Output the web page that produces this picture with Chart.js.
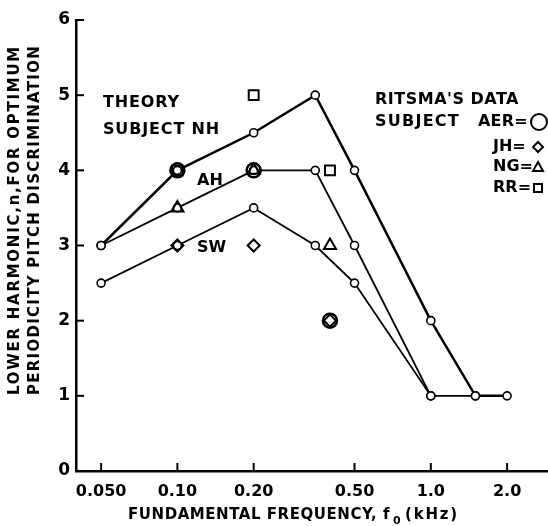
<!DOCTYPE html>
<html>
<head>
<meta charset="utf-8">
<script src="https://cdn.jsdelivr.net/npm/chart.js@4.4.1/dist/chart.umd.min.js"></script>
<style>
  html, body { margin: 0; padding: 0; background: #fff; }
  #wrap { width: 548px; height: 526px; }
</style>
</head>
<body>
<div id="wrap"><canvas id="chart"></canvas></div>
<script>
// theory curves (subjects NH, AH, SW)
const freqNH = [0.05, 0.1, 0.2, 0.35, 0.5, 1.0, 1.5, 2.0];
const harmNH = [3, 4, 4.5, 5, 4, 2, 1, 1];
const freqAH = [0.05, 0.1, 0.2, 0.35, 0.5, 1.0, 1.5];
const harmAH = [3, 3.5, 4, 4, 3, 1, 1];
const freqSW = [0.05, 0.1, 0.2, 0.35, 0.5, 1.0];
const harmSW = [2.5, 3, 3.5, 3, 2.5, 1];

// Ritsma's data
const freqAER = [0.1, 0.2, 0.4];
const harmAER = [4, 4, 2];
const freqJH = [0.1, 0.2, 0.4];
const harmJH = [3, 3, 2];
const freqNG = [0.1, 0.2, 0.4];
const harmNG = [3.5, 4, 3];
const freqRR = [0.1, 0.2, 0.4];
const harmRR = [4, 5, 4];

const xTicks = [0.05, 0.1, 0.2, 0.5, 1, 2];
const xTickLabels = ['0.050', '0.10', '0.20', '0.50', '1.0', '2.0'];
const yTicks = [0, 1, 2, 3, 4, 5, 6];

const FONT = 'DejaVu Sans';

function pts(xs, ys) {
    return xs.map((x, i) => ({ x: x, y: ys[i] }));
}

// text stretched to a given width, like the hand lettering
function fitText(ctx, str, x, y, w) {
    ctx.letterSpacing = '0px';
    const m = ctx.measureText(str).width;
    ctx.letterSpacing = Math.max(0, (w - m) / str.length) + 'px';
    ctx.fillText(str, x, y);
    ctx.letterSpacing = '0px';
}

// inward tick marks on both axes
const tickMarks = {
    id: 'tickMarks',
    beforeDatasetsDraw(chart) {
        const ctx = chart.ctx;
        const xs = chart.scales.x, ys = chart.scales.y;
        const a = chart.chartArea;
        ctx.save();
        ctx.strokeStyle = '#000';
        ctx.lineWidth = 2;
        xTicks.forEach(v => {
            const px = xs.getPixelForValue(v);
            ctx.beginPath();
            ctx.moveTo(px, a.bottom);
            ctx.lineTo(px, a.bottom - 8);
            ctx.stroke();
        });
        yTicks.forEach(v => {
            const py = ys.getPixelForValue(v);
            ctx.beginPath();
            ctx.moveTo(a.left, py);
            ctx.lineTo(a.left + 8, py);
            ctx.stroke();
        });
        ctx.restore();
    }
};

// titles, theory labels and the Ritsma key
const labels = {
    id: 'labels',
    afterDraw(chart) {
        const ctx = chart.ctx;
        ctx.save();
        ctx.fillStyle = '#000';
        ctx.strokeStyle = '#000';
        ctx.textBaseline = 'middle';
        ctx.textAlign = 'left';
        ctx.font = 'bold 16px ' + FONT;

        fitText(ctx, 'THEORY', 103, 103, 77);
        fitText(ctx, 'SUBJECT NH', 103, 130, 117);
        fitText(ctx, 'AH', 197, 181, 25);
        fitText(ctx, 'SW', 197, 248, 25);

        fitText(ctx, "RITSMA'S DATA", 375, 100, 144);
        fitText(ctx, 'SUBJECT', 375, 122, 85);
        fitText(ctx, 'AER=', 478, 122, 50);
        fitText(ctx, 'JH=', 493, 147, 32);
        fitText(ctx, 'NG=', 493, 167, 32);
        fitText(ctx, 'RR=', 493, 188, 34);

        // key symbols
        ctx.lineWidth = 2;
        ctx.beginPath();
        ctx.arc(539, 122, 8, 0, Math.PI * 2);
        ctx.stroke();
        ctx.beginPath();
        ctx.moveTo(538, 142); ctx.lineTo(543, 147); ctx.lineTo(538, 152); ctx.lineTo(533, 147);
        ctx.closePath(); ctx.stroke();
        ctx.beginPath();
        ctx.moveTo(538, 162); ctx.lineTo(543, 171); ctx.lineTo(533, 171);
        ctx.closePath(); ctx.stroke();
        ctx.strokeRect(534, 184, 8, 8);

        // x axis title
        ctx.font = 'bold 15px ' + FONT;
        fitText(ctx, 'FUNDAMENTAL FREQUENCY, f', 128, 515, 262);
        ctx.font = 'bold 11px ' + FONT;
        ctx.fillText('0', 393, 521);
        ctx.font = 'bold 15px ' + FONT;
        fitText(ctx, '(kHz)', 405, 515, 54);

        // y axis title, two lines
        ctx.font = 'bold 15px ' + FONT;
        ctx.translate(15, 395);
        ctx.rotate(-Math.PI / 2);
        fitText(ctx, 'LOWER HARMONIC,n,FOR OPTIMUM', 0, 0, 350);
        fitText(ctx, 'PERIODICITY PITCH DISCRIMINATION', 0, 20, 350);
        ctx.restore();
    }
};

const theoryStyle = {
    showLine: true,
    borderColor: '#000',
    pointStyle: 'circle',
    pointRadius: 4,
    pointBackgroundColor: '#fff',
    pointBorderColor: '#000',
    pointBorderWidth: 1.6,
    tension: 0
};

const markStyle = {
    showLine: false,
    borderColor: '#000',
    backgroundColor: 'rgba(0,0,0,0)',
    pointBackgroundColor: 'rgba(0,0,0,0)',
    pointBorderColor: '#000'
};

new Chart(document.getElementById('chart'), {
    type: 'scatter',
    data: {
        datasets: [
            Object.assign({}, markStyle, { label: 'AER', data: pts(freqAER, harmAER), pointStyle: 'circle', pointRadius: 7, pointBorderWidth: 2.5 }),
            Object.assign({}, markStyle, { label: 'JH', data: pts(freqJH, harmJH), pointStyle: 'rectRot', pointRadius: 6, pointBorderWidth: 2 }),
            Object.assign({}, markStyle, { label: 'NG', data: pts(freqNG, harmNG), pointStyle: 'triangle', pointRadius: 7, pointBorderWidth: 2 }),
            Object.assign({}, markStyle, { label: 'RR', data: pts(freqRR, harmRR), pointStyle: 'rect', pointRadius: 7, pointBorderWidth: 2 }),
            Object.assign({}, theoryStyle, { label: 'NH', data: pts(freqNH, harmNH), borderWidth: 2.5 }),
            Object.assign({}, theoryStyle, { label: 'AH', data: pts(freqAH, harmAH), borderWidth: 1.8 }),
            Object.assign({}, theoryStyle, { label: 'SW', data: pts(freqSW, harmSW), borderWidth: 1.8 })
        ]
    },
    options: {
        responsive: true,
        maintainAspectRatio: false,
        animation: false,
        layout: { autoPadding: false, padding: { top: 20, right: 0, left: 0, bottom: 0 } },
        plugins: {
            legend: { display: false },
            tooltip: { enabled: false }
        },
        scales: {
            x: {
                type: 'logarithmic',
                min: 0.0398,
                max: 2.9,
                afterBuildTicks: s => { s.ticks = xTicks.map(v => ({ value: v })); },
                afterFit: s => { s.height = 55; s.paddingLeft = 0; s.paddingRight = 0; },
                grid: { display: false, drawTicks: false },
                border: { display: true, color: '#000', width: 2.5 },
                ticks: {
                    autoSkip: false, maxRotation: 0, padding: 11,
                    color: '#000',
                    font: { family: FONT, size: 16, weight: 'bold' },
                    callback: (v, i) => xTickLabels[i]
                }
            },
            y: {
                min: 0,
                max: 6,
                afterBuildTicks: s => { s.ticks = yTicks.map(v => ({ value: v })); },
                afterFit: s => { s.width = 76; s.paddingTop = 0; s.paddingBottom = 0; },
                grid: { display: false, drawTicks: false },
                border: { display: true, color: '#000', width: 2.5 },
                ticks: {
                    padding: 6,
                    color: '#000',
                    font: { family: FONT, size: 17, weight: 'bold' }
                }
            }
        }
    },
    plugins: [tickMarks, labels]
});
</script>
</body>
</html>
